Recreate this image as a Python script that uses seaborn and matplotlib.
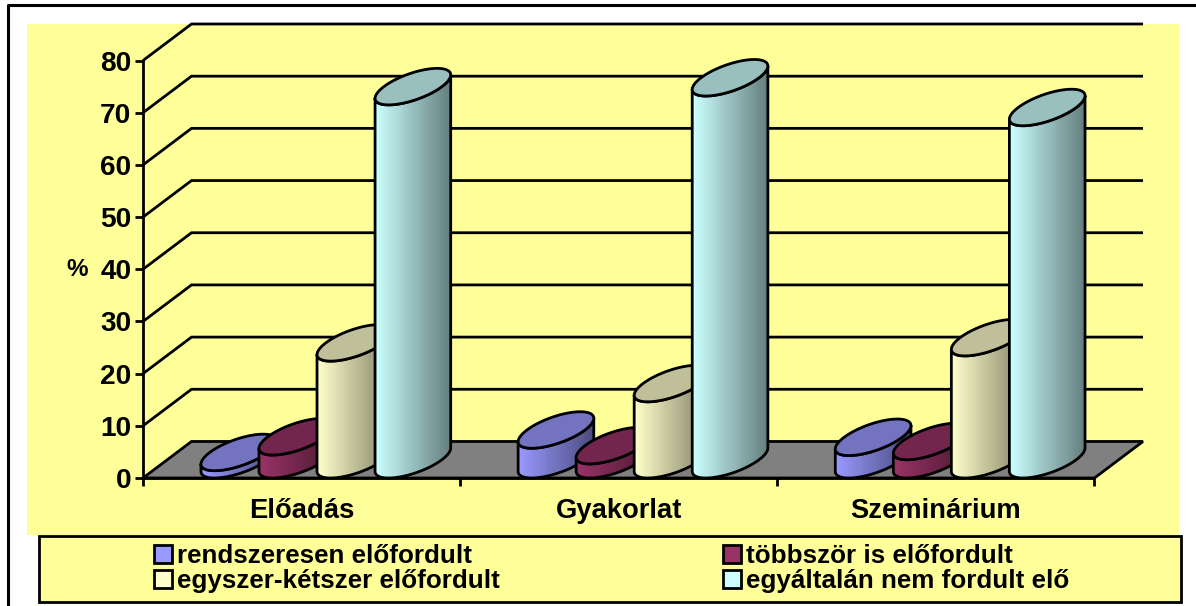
import numpy as np
import pandas as pd
import matplotlib
matplotlib.use("Agg")
import matplotlib.pyplot as plt
from matplotlib.colors import LinearSegmentedColormap, to_rgb
from matplotlib.lines import Line2D
from matplotlib.patches import Patch, Polygon, Rectangle
import seaborn as sns

# data
categories = ['Előadás', 'Gyakorlat', 'Szeminárium']
series = ['rendszeresen előfordult', 'többször is előfordult',
          'egyszer-kétszer előfordult', 'egyáltalán nem fordult elő']
rendszeresen = [1.4, 5.7, 4.3]
tobbszor = [4.4, 2.7, 3.5]
egyszer = [22.4, 14.6, 23.4]
egyaltalan = [71.5, 73.2, 67.5]
colors = ['#9999FF', '#993366', '#FFFFCC', '#CCFFFF']
y_ticks = [0, 10, 20, 30, 40, 50, 60, 70, 80]

W, H = 1196, 606
DEPTH_X = 48.5 / 317  # category units
DEPTH_Y = 7.0         # value units
LW = 2.0
FONT = 19.7


def fx(px):
    return px / W


def fy(px):
    return 1 - px / H


def load_data():
    df = pd.DataFrame({
        'kategoria': categories * 4,
        'sorozat': [s for s in series for _ in categories],
        'ertek': rendszeresen + tobbszor + egyszer + egyaltalan,
    })
    return df


def draw_cylinder(ax, bar, color, z):
    left, width, value = bar.get_x(), bar.get_width(), bar.get_height()
    a = width / 2
    b = DEPTH_X / 2
    d = DEPTH_Y / 2
    cx = left + a + b
    t0 = np.arctan2(b, a)

    # lower half of the ring, from left tangent to right tangent
    t = np.linspace(t0 + np.pi, t0 + 2 * np.pi, 80)
    ex = cx + a * np.cos(t) + b * np.sin(t)
    ey = d * np.sin(t)

    verts = np.vstack([
        np.column_stack([ex, d + ey]),
        np.column_stack([ex[::-1], value + d + ey[::-1]]),
    ])
    body = Polygon(verts, closed=True, fc='none', ec='black', lw=LW, zorder=z + 0.2,
                   clip_on=False, joinstyle='round')
    ax.add_patch(body)

    rgb = np.array(to_rgb(color))
    cmap = LinearSegmentedColormap.from_list('cyl', [rgb, rgb * 0.5])
    im = ax.imshow(np.linspace(0, 1, 40)[None, :], cmap=cmap, aspect='auto',
                   extent=(ex.min(), ex.max(), 0, value + DEPTH_Y), interpolation='nearest',
                   zorder=z + 0.1)
    im.set_clip_path(body)

    # top face
    t = np.linspace(0, 2 * np.pi, 160)
    top = Polygon(np.column_stack([cx + a * np.cos(t) + b * np.sin(t),
                                   value + d + d * np.sin(t)]),
                  closed=True, fc=rgb * 0.75, ec='black', lw=LW, zorder=z + 0.3,
                  clip_on=False)
    ax.add_patch(top)


def plot_chart(df):
    fig = plt.figure(figsize=(W / 100, H / 100), dpi=100, facecolor='white')

    # frame, panel and legend box
    fig.add_artist(Line2D([fx(7.5), fx(7.5), fx(W)], [fy(H), fy(5), fy(5)], color='black', lw=2.2,
                          zorder=-3))
    fig.add_artist(Rectangle((fx(27), fy(535)), fx(1179 - 27), 511 / H, fc='#FFFF99', ec='none',
                             transform=fig.transFigure, zorder=-2))
    fig.add_artist(Rectangle((fx(38.5), fy(602)), fx(1181 - 38.5), 66 / H, fc='#FFFF99', ec='black',
                             lw=LW, transform=fig.transFigure, zorder=-1))

    ax = fig.add_axes([fx(143), fy(478), fx(1000), 454 / H])
    ax.patch.set_alpha(0)

    sns.barplot(data=df, x='kategoria', y='ertek', hue='sorozat', hue_order=series,
                palette=colors, width=232 / 317, gap=0, saturation=1, errorbar=None,
                legend=False, ax=ax)

    # back wall lines and floor
    for v in y_ticks[1:]:
        ax.plot([-0.5, -0.5 + DEPTH_X, 2.5 + DEPTH_X], [v, v + DEPTH_Y, v + DEPTH_Y],
                color='black', lw=LW, zorder=1, solid_joinstyle='miter', clip_on=False,
                solid_capstyle='butt')
    ax.add_patch(Polygon([(-0.5, 0), (2.5, 0), (2.5 + DEPTH_X, DEPTH_Y), (-0.5 + DEPTH_X, DEPTH_Y)],
                         closed=True, fc='#808080', ec='black', lw=LW, zorder=1.5, clip_on=False))

    # seaborn gives the bar positions, the cylinders are drawn on them
    z = 2
    for cont, color in zip(ax.containers, colors):
        for bar in cont:
            bar.set_visible(False)
    for i in range(len(categories)):
        for cont, color in zip(ax.containers, colors):
            draw_cylinder(ax, cont[i], color, z)
            z += 1

    ax.set_xlim(-0.5, 2.5 + DEPTH_X)
    ax.set_ylim(0, 80 + DEPTH_Y)
    ax.set_yticks(y_ticks)
    ax.set_xticks(range(len(categories)), categories)
    ax.set_xticks([-0.5, 0.5, 1.5, 2.5], minor=True)

    ax.tick_params(axis='y', length=5.8, width=LW, pad=2.5, labelsize=FONT + 0.5, left=True)
    ax.tick_params(axis='x', which='major', length=0, pad=14.5, labelsize=FONT)
    ax.tick_params(axis='x', which='minor', length=5.8, width=LW, bottom=True)
    for lab in ax.get_xticklabels() + ax.get_yticklabels():
        lab.set_fontweight('bold')

    for side in ['top', 'right']:
        ax.spines[side].set_visible(False)
    for side in ['left', 'bottom']:
        ax.spines[side].set_linewidth(LW)
        ax.spines[side].set_color('black')
        ax.spines[side].set_zorder(1.8)
    ax.spines['left'].set_bounds(0, 80)
    ax.spines['bottom'].set_bounds(-0.5, 2.5)

    ax.set_xlabel('')
    ax.set_ylabel('%', rotation=0, fontsize=17.5, fontweight='bold', va='center', ha='center')
    ax.yaxis.set_label_coords(-0.066, 0.46)

    # row order in the picture: blue, red / cream, teal
    order = [0, 2, 1, 3]
    handles = [Patch(fc=colors[i], ec='black', lw=LW, label=series[i]) for i in order]
    fig.legend(handles=handles, ncol=2, loc='center', bbox_to_anchor=(fx(612), fy(568.5)),
               frameon=False, prop={'weight': 'bold', 'size': 18.75},
               handlelength=0.66, handleheight=0.66, handletextpad=0.22,
               labelspacing=0.04, columnspacing=8.57, borderpad=0, borderaxespad=0)
    return fig


if __name__ == "__main__":
    sns.set_theme(style='white')
    plt.rcParams['font.family'] = ['Liberation Sans', 'DejaVu Sans']
    plt.rcParams['text.color'] = 'black'
    plt.rcParams['xtick.color'] = 'black'
    plt.rcParams['ytick.color'] = 'black'
    plt.rcParams['axes.labelcolor'] = 'black'
    fig = plot_chart(load_data())
    fig.savefig('out.png', dpi=100)
